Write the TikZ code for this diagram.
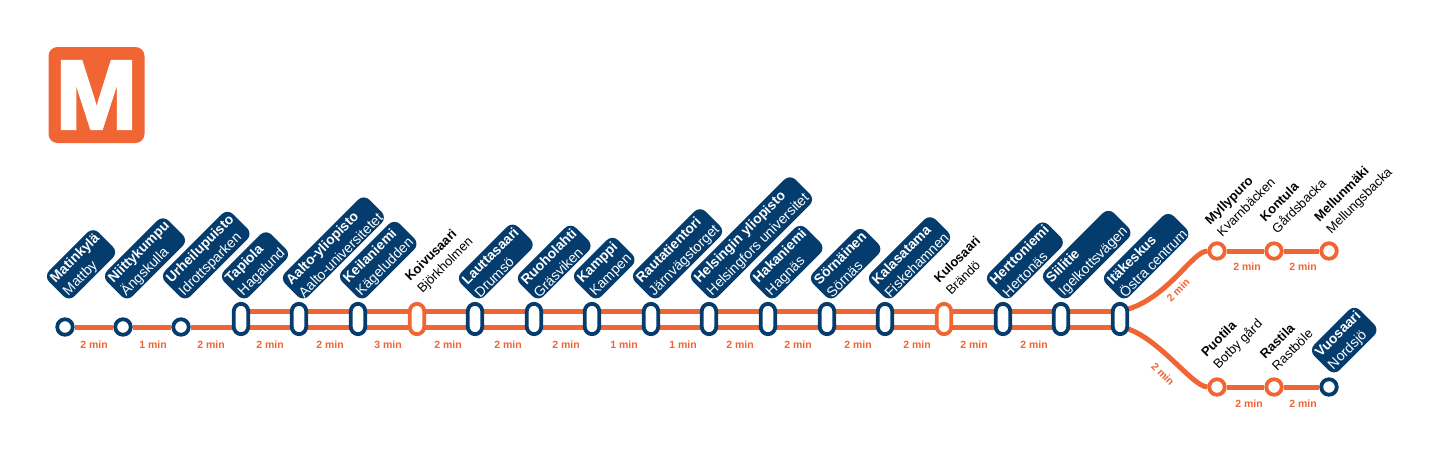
\documentclass[tikz,border=0pt]{standalone}
\usepackage{fontspec}
\setmainfont{Liberation Sans}
\newfontfamily\logofont[BoldFeatures={FakeBold=3}]{Liberation Sans}
\usetikzlibrary{backgrounds}
\definecolor{navy}{HTML}{053C6E}
\definecolor{metro}{HTML}{F06533}
\tikzset{
  x=1pt,y=-1pt,
  track/.style={draw=metro,line width=5pt},
  halt/.style={circle,fill=white,draw=navy,line width=3.8pt,minimum size=15.5pt,inner sep=0pt},
  halto/.style={halt,draw=metro},
  pill/.style={rectangle,rounded corners=7.5pt,fill=white,draw=navy,line width=3.8pt,minimum width=14.5pt,minimum height=30.5pt,inner sep=0pt},
  pillo/.style={pill,draw=metro},
  lab/.style={rotate=45,anchor=south west,align=left,inner xsep=3.5pt,inner ysep=1.5pt,font=\fontsize{14}{18}\selectfont},
  boxlab/.style={lab,fill=navy,text=white,rounded corners=8pt},
  plainlab/.style={lab,text=black,font=\fontsize{13}{17}\selectfont},
  mins/.style={text=metro,font=\fontsize{10.5}{12}\selectfont\bfseries,inner sep=0pt},
}
\newcommand{\two}[2]{\rule{0pt}{12pt}{\fontsize{13.8}{18}\selectfont\textbf{#1}}\\#2}
\newcommand{\twop}[2]{\rule{0pt}{12pt}\textbf{#1}\\#2}
\begin{document}
\begin{tikzpicture}
\useasboundingbox (0,0) rectangle (1440,456);
\node[fill=metro,rounded corners=9pt,minimum size=96pt,inner sep=0pt,text=white,font=\logofont\fontsize{98}{98}\selectfont\bfseries] (logo) at (96.5,95) {M};
\foreach \n/\x in {s1/65,s2/123,s3/181}
  \node[halt] (\n) at (\x,327) {};
\foreach \n/\x in {s4/241,s5/299,s6/358,s8/475,s9/534,s10/592,s11/651,s12/709,s13/768,s14/827,s15/885,s17/1003,s18/1061,s19/1120}
  \node[pill] (\n) at (\x,319) {};
\foreach \n/\x in {s7/417,s16/944}
  \node[pillo] (\n) at (\x,319) {};
\foreach \n/\x in {u1/1217,u2/1274,u3/1329}
  \node[halto] (\n) at (\x,251) {};
\foreach \n/\x in {d1/1217,d2/1274}
  \node[halto] (\n) at (\x,387) {};
\node[halt] (d3) at (1329,387) {};
\begin{scope}[on background layer]
  \draw[track] (s1) -- (s2) -- (s3) -- ([yshift=-8pt]s4.center);
  \foreach \a/\b in {s4/s5,s5/s6,s6/s7,s7/s8,s8/s9,s9/s10,s10/s11,s11/s12,s12/s13,s13/s14,s14/s15,s15/s16,s16/s17,s17/s18,s18/s19}{
    \draw[track] ([yshift=8pt]\a.center) -- ([yshift=8pt]\b.center);
    \draw[track] ([yshift=-8pt]\a.center) -- ([yshift=-8pt]\b.center);
  }
  \draw[track] ([yshift=8pt]s19.center) .. controls +(45,-8) and +(-25,0) .. (u1);
  \draw[track] (u1) -- (u2) -- (u3);
  \draw[track] ([yshift=-8pt]s19.center) .. controls +(35,5) and +(-25,0) .. (d1);
  \draw[track] (d1) -- (d2) -- (d3);
\end{scope}
\node[boxlab] (l1) at (69,302) {\two{Matinkylä}{Mattby}};
\node[boxlab] (l2) at (127,302) {\two{Niittykumpu}{Ängskulla}};
\node[boxlab] (l3) at (185,302) {\two{Urheilupuisto}{Idrottsparken}};
\node[boxlab] (l4) at (244,302) {\two{Tapiola}{Hagalund}};
\node[boxlab] (l5) at (303,302) {\two{Aalto-yliopisto}{Aalto-universitetet}};
\node[boxlab] (l6) at (362,302) {\two{Keilaniemi}{Kägeludden}};
\node[plainlab] (l7) at (423,299.5) {\twop{Koivusaari}{Björkholmen}};
\node[boxlab] (l8) at (479,302) {\two{Lauttasaari}{Drumsö}};
\node[boxlab] (l9) at (538,302) {\two{Ruoholahti}{Gräsviken}};
\node[boxlab] (l10) at (596,302) {\two{Kamppi}{Kampen}};
\node[boxlab] (l11) at (655,302) {\two{Rautatientori}{Järnvägstorget}};
\node[boxlab] (l12) at (713,302) {\two{Helsingin yliopisto}{Helsingfors universitet}};
\node[boxlab] (l13) at (772,302) {\two{Hakaniemi}{Hagnäs}};
\node[boxlab] (l14) at (831,302) {\two{Sörnäinen}{Sörnäs}};
\node[boxlab] (l15) at (889,302) {\two{Kalasatama}{Fiskehamnen}};
\node[plainlab] (l16) at (950,299.5) {\twop{Kulosaari}{Brändö}};
\node[boxlab] (l17) at (1007,302) {\two{Herttoniemi}{Hertonäs}};
\node[boxlab] (l18) at (1065,302) {\two{Siilitie}{Igelkottsvägen}};
\node[boxlab] (l19) at (1124,302) {\two{Itäkeskus}{Östra centrum}};
\node[plainlab] (l20) at (1221,241) {\twop{Myllypuro}{Kvarnbäcken}};
\node[plainlab] (l21) at (1276,238) {\twop{Kontula}{Gårdsbacka}};
\node[plainlab] (l22) at (1332,240) {\twop{Mellunmäki}{Mellungsbacka}};
\node[plainlab] (l23) at (1219,375) {\twop{Puotila}{Botby gård}};
\node[plainlab] (l24) at (1276,375) {\twop{Rastila}{Rastböle}};
\node[boxlab] (l25) at (1334,376) {\two{Vuosaari}{Nordsjö}};
\foreach \n/\x/\t in {t1/94/2,t2/153/1,t3/211/2,t4/270/2,t5/330/2,t6/388/3,t7/448/2,t8/508/2,t9/566/2,t10/624/1,t11/683/1,t12/740/2,t13/798/2,t14/858/2,t15/917/2,t16/974/2,t17/1034/2}
  \node[mins] (\n) at (\x,345) {\t{} min};
\node[mins] (t18) at (1247,267) {2 min};
\node[mins] (t19) at (1303,267) {2 min};
\node[mins] (t20) at (1249,404) {2 min};
\node[mins] (t21) at (1303,404) {2 min};
\node[mins,rotate=45] (t22) at (1178,290) {2 min};
\node[mins,rotate=-45] (t23) at (1163,374) {2 min};
\end{tikzpicture}
\end{document}
